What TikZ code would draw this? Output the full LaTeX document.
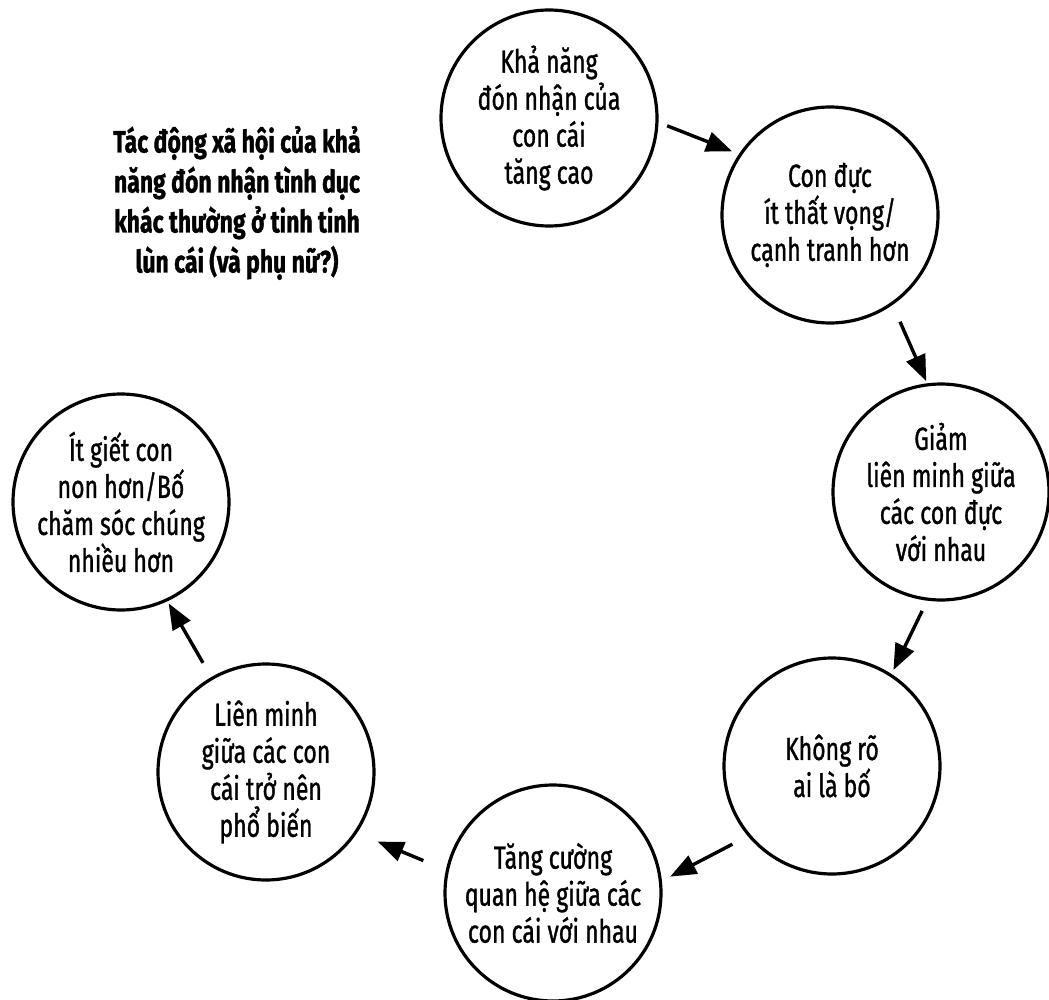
\documentclass[tikz,border=0pt]{standalone}
\usepackage{fontspec}
\setmainfont[FakeStretch=0.74]{Fira Sans}
\newfontfamily\bubblefont[FakeStretch=0.72,FakeBold=1.0]{Fira Sans}
\newfontfamily\titlefont[FakeStretch=0.74,FakeBold=1.2]{Fira Sans}
\usetikzlibrary{arrows.meta}
\begin{document}
\begin{tikzpicture}[x=1pt,y=-1pt,
  bubble/.style={circle,draw,line width=3.2pt,minimum size=216pt,inner sep=-30pt,outer sep=0pt,align=center,font=\bubblefont\fontsize{32}{37}\selectfont},
  arr/.style={line width=3.4pt,-{Triangle[length=26pt,width=20pt]}},
  title/.style={align=center,font=\titlefont\bfseries\fontsize{31}{40}\selectfont}]
\useasboundingbox[fill=white] (0,0) rectangle (1049,1000);
\node[title] (T) at (237,203) {Tác động xã hội của khả\\năng đón nhận tình dục\\khác thường ở tinh tinh\\lùn cái (và phụ nữ?)};
\node[bubble] (A) at (549,118) {Khả năng\\đón nhận của\\con cái\\tăng cao};
\node[bubble] (B) at (830,215) {Con đực\\ít thất vọng/\\cạnh tranh hơn};
\node[bubble] (C) at (941,492) {Giảm\\liên minh giữa\\các con đực\\với nhau};
\node[bubble] (D) at (832,766) {Không rõ\\ai là bố};
\node[bubble] (E) at (553,893) {Tăng cường\\quan hệ giữa các\\con cái với nhau};
\node[bubble] (F) at (266,772) {Liên minh\\giữa các con\\cái trở nên\\phổ biến};
\node[bubble] (G) at (121,502) {Ít giết con\\non hơn/Bố\\chăm sóc chúng\\nhiều hơn};
\draw[arr,shorten <=11pt,shorten >=9pt] (A.-2) -- (B.146);
\draw[arr,shorten <=20pt,shorten >=4pt] (B.-55) -- (C.97);
\draw[arr,shorten <=13pt,shorten >=6pt] (C.263) -- (D.57);
\draw[arr,shorten <=19pt,shorten >=11pt] (D.220) -- (E.6);
\draw[arr,shorten <=26pt,shorten >=24pt] (E.168) -- (F.-34);
\draw[arr,shorten <=18pt,shorten >=4pt] (F.120) -- (G.-65);
\end{tikzpicture}
\end{document}
